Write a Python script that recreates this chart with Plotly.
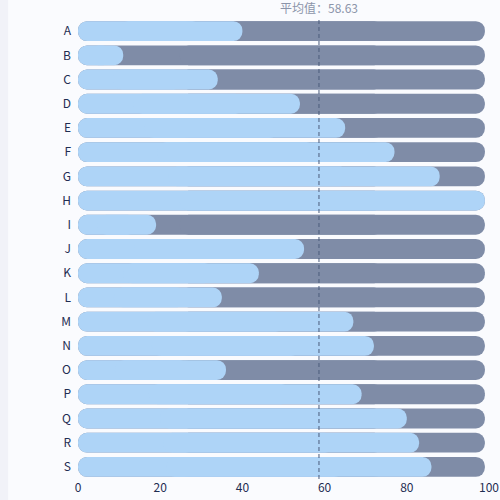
import plotly.graph_objects as go


categories = ["A", "B", "C", "D", "E", "F", "G", "H", "I", "J",
              "K", "L", "M", "N", "O", "P", "Q", "R", "S"]
values = [40, 11, 34, 54, 65, 77, 88, 99, 19, 55,
          44, 35, 67, 72, 36, 69, 80, 83, 86]
x_ticks = [0, 20, 40, 60, 80, 100]

mean_value = sum(values) / len(values)
track = [max(values)] * len(values)

light = "#aed4f7"
dark = "#7f8ca7"
bar_w = 0.82


def pill(vals, color):
    # plotly only rounds the far end of a bar, so each pill is two
    # overlapping halves: one growing left, one growing right
    left = go.Bar(
        y=categories, x=[-v * 0.75 for v in vals], base=[v * 0.75 for v in vals],
        orientation="h", width=bar_w, marker=dict(color=color, cornerradius="50%", line_width=0),
        hoverinfo="skip", showlegend=False,
    )
    right = go.Bar(
        y=categories, x=[v * 0.75 for v in vals], base=[v * 0.25 for v in vals],
        orientation="h", width=bar_w, marker=dict(color=color, cornerradius="50%", line_width=0),
        hoverinfo="skip", showlegend=False,
    )
    return [left, right]


fig = go.Figure(pill(track, dark) + pill(values, light))

fig.add_shape(
    type="line", xref="x", yref="paper", x0=mean_value, x1=mean_value, y0=0, y1=1,
    line=dict(color="#4b5b7c", width=1, dash="4px,3px"),
)
fig.add_annotation(
    x=mean_value, y=1, xref="x", yref="paper", yanchor="bottom", yshift=1,
    text=f"平均值：{mean_value:.2f}", showarrow=False,
    font=dict(size=12, color="#8c95aa", family="Noto Sans CJK SC"),
)
# thin grey strip on the far left of the page
fig.add_shape(
    type="rect", xref="paper", yref="paper", x0=-0.2, x1=-0.17, y0=-0.05, y1=1.05,
    fillcolor="#f1f2f8", line_width=0, layer="below",
)

fig.update_layout(
    width=500, height=500,
    margin=dict(l=78, r=11, t=19, b=21),
    barmode="overlay",
    paper_bgcolor="#fafbfe",
    plot_bgcolor="#fafbfe",
    font=dict(family="Noto Sans CJK SC", size=12, color="#1f2d52"),
    xaxis=dict(
        range=[0, 100], tickvals=x_ticks, showgrid=False, zeroline=False,
        showline=False, ticks="", fixedrange=True, automargin=False,
    ),
    yaxis=dict(
        autorange="reversed", showgrid=False, zeroline=False, showline=False,
        ticks="", ticklabelstandoff=6, fixedrange=True, automargin=False,
    ),
)

# drop the default 8px page margin so the figure sits at the window corner
fig.write_html(
    "out.html",
    config={"displayModeBar": False},
    post_script="document.body.style.margin='0';",
)
